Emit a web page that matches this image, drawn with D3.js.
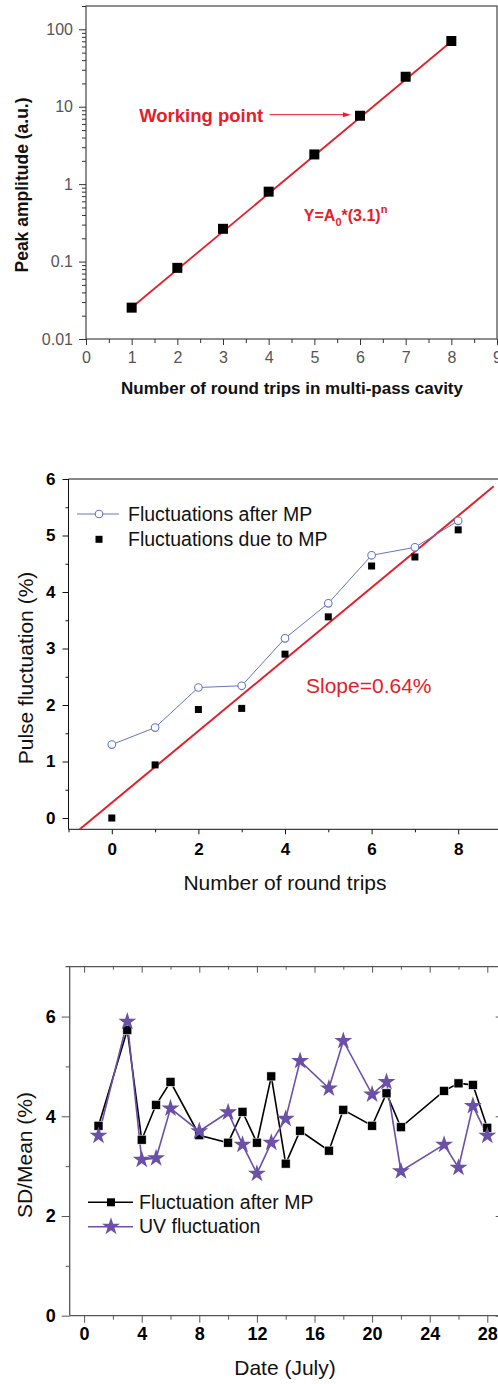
<!DOCTYPE html>
<html><head><meta charset="utf-8">
<script src="https://cdn.jsdelivr.net/npm/d3@7"></script>
<style>
html,body{margin:0;padding:0;background:#fff;}
svg{display:block;font-family:"Liberation Sans",Arial,sans-serif;}
</style></head>
<body>
<svg id="c" width="498" height="1384"></svg>
<script>
// ---------- Panel 1 data ----------
const p1Trips = [1, 2, 3, 4, 5, 6, 7, 8];
const p1Amp = [0.0254, 0.083, 0.265, 0.80, 2.42, 7.65, 24.4, 70.6];
const p1FitX = [1, 8];
const p1FitY = [0.0255, 69.5];
const p1YTicks = [0.01, 0.1, 1, 10, 100];
const p1XTicks = [0, 1, 2, 3, 4, 5, 6, 7, 8, 9];

// ---------- Panel 2 data ----------
const p2Trips = [0, 1, 2, 3, 4, 5, 6, 7, 8];
const p2After = [1.30, 1.60, 2.31, 2.34, 3.18, 3.80, 4.65, 4.79, 5.26];
const p2Due = [0.00, 0.94, 1.92, 1.94, 2.90, 3.56, 4.46, 4.62, 5.10];
const p2FitX = [-0.74, 8.82];
const p2FitY = [-0.20, 5.87];
const p2YTicks = [0, 1, 2, 3, 4, 5, 6];
const p2XTicks = [0, 2, 4, 6, 8];

// ---------- Panel 3 data ----------
const p3DaysMP = [1, 3, 4, 5, 6, 8, 10, 11, 12, 13, 14, 15, 17, 18, 20, 21, 22, 25, 26, 27, 28];
const p3MP = [3.81, 5.73, 3.53, 4.23, 4.69, 3.62, 3.47, 4.09, 3.47, 4.80, 3.05, 3.71, 3.31, 4.13, 3.81, 4.46, 3.78, 4.51, 4.66, 4.63, 3.77];
const p3DaysUV = [1, 3, 4, 5, 6, 8, 10, 11, 12, 13, 14, 15, 17, 18, 20, 21, 22, 25, 26, 27, 28];
const p3UV = [3.61, 5.90, 3.13, 3.16, 4.16, 3.70, 4.08, 3.43, 2.85, 3.47, 3.95, 5.11, 4.56, 5.51, 4.44, 4.69, 2.90, 3.43, 2.97, 4.21, 3.61];
const p3YTicks = [0, 2, 4, 6];
const p3XTicks = [0, 4, 8, 12, 16, 20, 24, 28];

const RED = "#e3202a";
const BLUE = "#6576c0";
const PURPLE = "#6a50a6";

const svg = d3.select("#c");

function styleAxis(g, color, fs, weight, fill) {
  g.select(".domain").remove();
  g.selectAll(".tick line").attr("stroke", color).attr("stroke-width", 1);
  g.selectAll(".tick text").attr("font-size", fs).attr("font-weight", weight)
    .attr("fill", fill).attr("font-family", '"Liberation Sans",Arial,sans-serif');
}

// ================= PANEL 1 =================
{
  const x = d3.scaleLinear().domain([0, 9]).range([86, 497]);
  const y = d3.scaleLog().domain([0.01, 200]).range([339, 6]);
  const g = svg.append("g");
  const axC = "#333";
  g.append("rect").attr("x", 86).attr("y", 6).attr("width", 411).attr("height", 333)
    .attr("fill", "none").attr("stroke", "#444").attr("stroke-width", 1.2);
  const minor = y.ticks().filter(v => !p1YTicks.includes(+v.toPrecision(3)));
  g.append("g").attr("transform", "translate(86,0)")
    .call(d3.axisLeft(y).tickValues(minor).tickSize(4).tickFormat(""))
    .call(a => styleAxis(a, axC, 16, "normal", "#555"));
  g.append("g").attr("transform", "translate(86,0)")
    .call(d3.axisLeft(y).tickValues(p1YTicks).tickSize(7).tickPadding(6)
      .tickFormat(d => d >= 1 ? d3.format("d")(d) : String(d)))
    .call(a => styleAxis(a, axC, 16, "normal", "#555"));
  g.append("g").attr("transform", "translate(0,339)")
    .call(d3.axisBottom(x).tickValues(d3.range(0.5, 9, 1)).tickSize(4).tickFormat(""))
    .call(a => styleAxis(a, axC, 16, "normal", "#555"));
  g.append("g").attr("transform", "translate(0,339)")
    .call(d3.axisBottom(x).tickValues(p1XTicks).tickSize(6).tickPadding(7).tickFormat(d3.format("d")))
    .call(a => styleAxis(a, axC, 16, "normal", "#555"));
  g.append("path").datum(p1FitX.map((v, i) => [v, p1FitY[i]]))
    .attr("d", d3.line().x(d => x(d[0])).y(d => y(d[1])))
    .attr("stroke", RED).attr("stroke-width", 1.8).attr("fill", "none");
  g.selectAll("rect.pt").data(p1Trips).join("rect").attr("class", "pt")
    .attr("x", (d, i) => x(d) - 5).attr("y", (d, i) => y(p1Amp[i]) - 5)
    .attr("width", 10).attr("height", 10).attr("fill", "#000");
  const ay = y(7.9);
  g.append("text").attr("x", x(3.88)).attr("y", ay + 7).attr("text-anchor", "end")
    .attr("font-size", 18.5).attr("font-weight", "bold").attr("fill", RED).text("Working point");
  g.append("line").attr("x1", x(4.02)).attr("x2", x(5.8) - 6).attr("y1", ay).attr("y2", ay)
    .attr("stroke", RED).attr("stroke-width", 1);
  g.append("path").attr("d", `M${x(5.8)},${ay} l-8,-2.5 l0,5 z`).attr("fill", RED);
  const eq = g.append("text").attr("x", x(4.77)).attr("y", y(0.33)).attr("font-size", 16)
    .attr("font-weight", "bold").attr("fill", RED);
  eq.append("tspan").text("Y=A");
  eq.append("tspan").attr("font-size", 11).attr("dy", 5).text("0");
  eq.append("tspan").attr("dy", -5).text("*(3.1)");
  eq.append("tspan").attr("font-size", 11).attr("dy", -8).text("n");
  g.append("text").attr("transform", "translate(28,185) rotate(-90)").attr("text-anchor", "middle")
    .attr("font-size", 17.5).attr("font-weight", "bold").attr("fill", "#111").text("Peak amplitude (a.u.)");
  g.append("text").attr("x", 292).attr("y", 394).attr("text-anchor", "middle")
    .attr("font-size", 17).attr("font-weight", "bold").attr("fill", "#111")
    .text("Number of round trips in multi-pass cavity");
}

// ================= PANEL 2 =================
{
  const x = d3.scaleLinear().domain([-1, 9]).range([68.5, 501.5]);
  const y = d3.scaleLinear().domain([-0.2, 6]).range([829.3, 479]);
  const g = svg.append("g");
  const axC = "#111";
  g.append("line").attr("x1", 68.5).attr("x2", 501.5).attr("y1", 479).attr("y2", 479).attr("stroke", axC);
  g.append("line").attr("x1", 68.5).attr("x2", 68.5).attr("y1", 479).attr("y2", 829.3).attr("stroke", axC);
  g.append("line").attr("x1", 68.5).attr("x2", 501.5).attr("y1", 829.3).attr("y2", 829.3).attr("stroke", axC);
  g.append("g").attr("transform", "translate(68.5,0)")
    .call(d3.axisLeft(y).tickValues(d3.range(0.5, 6, 1)).tickSize(3).tickFormat(""))
    .call(a => styleAxis(a, axC, 17, "bold", "#000"));
  g.append("g").attr("transform", "translate(68.5,0)")
    .call(d3.axisLeft(y).tickValues(p2YTicks).tickSize(6).tickPadding(7).tickFormat(d3.format("d")))
    .call(a => styleAxis(a, axC, 17, "bold", "#000"));
  g.append("g").attr("transform", "translate(0,829.3)")
    .call(d3.axisBottom(x).tickValues([-1, 1, 3, 5, 7, 9]).tickSize(3).tickFormat(""))
    .call(a => styleAxis(a, axC, 17, "bold", "#000"));
  g.append("g").attr("transform", "translate(0,829.3)")
    .call(d3.axisBottom(x).tickValues(p2XTicks).tickSize(5).tickPadding(9).tickFormat(d3.format("d")))
    .call(a => styleAxis(a, axC, 17, "bold", "#000"));
  g.append("path").datum(p2FitX.map((v, i) => [v, p2FitY[i]]))
    .attr("d", d3.line().x(d => x(d[0])).y(d => y(d[1])))
    .attr("stroke", RED).attr("stroke-width", 2).attr("fill", "none");
  g.append("path").datum(p2Trips.map((v, i) => [v, p2After[i]]))
    .attr("d", d3.line().x(d => x(d[0])).y(d => y(d[1])))
    .attr("stroke", BLUE).attr("stroke-width", 1).attr("fill", "none");
  g.selectAll("circle.pt").data(p2Trips).join("circle").attr("class", "pt")
    .attr("cx", d => x(d)).attr("cy", (d, i) => y(p2After[i])).attr("r", 3.8)
    .attr("fill", "#fff").attr("stroke", BLUE).attr("stroke-width", 1.1);
  g.selectAll("rect.pt").data(p2Trips).join("rect").attr("class", "pt")
    .attr("x", d => x(d) - 3.5).attr("y", (d, i) => y(p2Due[i]) - 3.5)
    .attr("width", 7).attr("height", 7).attr("fill", "#000");
  g.append("line").attr("x1", 77).attr("x2", 119).attr("y1", 514).attr("y2", 514).attr("stroke", BLUE);
  g.append("circle").attr("cx", 99).attr("cy", 514).attr("r", 3.8).attr("fill", "#fff").attr("stroke", BLUE).attr("stroke-width", 1.1);
  g.append("text").attr("x", 128).attr("y", 521).attr("font-size", 19.5).attr("fill", "#111").text("Fluctuations after MP");
  g.append("rect").attr("x", 95.5).attr("y", 535.8).attr("width", 7).attr("height", 7).attr("fill", "#000");
  g.append("text").attr("x", 128).attr("y", 546).attr("font-size", 19.5).attr("fill", "#111").text("Fluctuations due to MP");
  g.append("text").attr("x", 306).attr("y", 692.5).attr("font-size", 21).attr("fill", RED).text("Slope=0.64%");
  g.append("text").attr("transform", "translate(33,668) rotate(-90)").attr("text-anchor", "middle")
    .attr("font-size", 21).attr("fill", "#111").text("Pulse fluctuation (%)");
  g.append("text").attr("x", 285).attr("y", 890).attr("text-anchor", "middle")
    .attr("font-size", 21).attr("fill", "#111").text("Number of round trips");
}

// ================= PANEL 3 =================
{
  const x = d3.scaleLinear().domain([-1, 29]).range([69.7, 501.7]);
  const y = d3.scaleLinear().domain([0, 7]).range([1315.7, 966.7]);
  const g = svg.append("g");
  const axC = "#555";
  g.append("line").attr("x1", 65.5).attr("x2", 501.7).attr("y1", 966.7).attr("y2", 966.7).attr("stroke", axC).attr("stroke-width", 1.3);
  g.append("line").attr("x1", 69.7).attr("x2", 69.7).attr("y1", 966.7).attr("y2", 1315.7).attr("stroke", axC).attr("stroke-width", 1.3);
  g.append("line").attr("x1", 69.7).attr("x2", 501.7).attr("y1", 1315.7).attr("y2", 1315.7).attr("stroke", axC).attr("stroke-width", 1.3);
  g.append("line").attr("x1", 501.7).attr("x2", 501.7).attr("y1", 966.7).attr("y2", 1315.7).attr("stroke", axC).attr("stroke-width", 1.3);
  g.append("g").attr("transform", "translate(69.7,0)")
    .call(d3.axisLeft(y).tickValues([1, 3, 5]).tickSize(4).tickFormat(""))
    .call(a => styleAxis(a, axC, 18, "bold", "#000"));
  g.append("g").attr("transform", "translate(69.7,0)")
    .call(d3.axisLeft(y).tickValues(p3YTicks).tickSize(8).tickPadding(6).tickFormat(d3.format("d")))
    .call(a => styleAxis(a, axC, 18, "bold", "#000"));
  g.append("g").attr("transform", "translate(501.7,0)")
    .call(d3.axisLeft(y).tickValues(p3YTicks).tickSize(6).tickFormat(""))
    .call(a => styleAxis(a, axC, 18, "bold", "#000"));
  g.append("g").attr("transform", "translate(0,1315.7)")
    .call(d3.axisBottom(x).tickValues(d3.range(2, 29, 4)).tickSize(4).tickFormat(""))
    .call(a => styleAxis(a, axC, 18, "bold", "#000"));
  g.append("g").attr("transform", "translate(0,1315.7)")
    .call(d3.axisBottom(x).tickValues(p3XTicks).tickSize(7).tickPadding(5).tickFormat(d3.format("d")))
    .call(a => styleAxis(a, axC, 18, "bold", "#000"));
  g.append("g").attr("transform", "translate(0,966.7)")
    .call(d3.axisTop(x).tickValues(d3.range(2, 29, 4)).tickSize(-3).tickFormat(""))
    .call(a => styleAxis(a, axC, 18, "bold", "#000"));
  g.append("g").attr("transform", "translate(0,966.7)")
    .call(d3.axisTop(x).tickValues(p3XTicks).tickSize(-6).tickFormat(""))
    .call(a => styleAxis(a, axC, 18, "bold", "#000"));
  const line = d3.line().x(d => x(d[0])).y(d => y(d[1]));
  g.append("path").datum(p3DaysMP.map((v, i) => [v, p3MP[i]])).attr("d", line)
    .attr("stroke", "#000").attr("stroke-width", 1.6).attr("fill", "none");
  g.append("path").datum(p3DaysUV.map((v, i) => [v, p3UV[i]])).attr("d", line)
    .attr("stroke", PURPLE).attr("stroke-width", 1.6).attr("fill", "none");
  g.selectAll("rect.pt").data(p3DaysMP).join("rect").attr("class", "pt")
    .attr("x", d => x(d) - 4.5).attr("y", (d, i) => y(p3MP[i]) - 4.5)
    .attr("width", 9).attr("height", 9).attr("fill", "#000").attr("stroke", "#fff").attr("stroke-width", 0.6);
  const star = d3.symbol().type(d3.symbolStar).size(100);
  g.selectAll("path.st").data(p3DaysUV).join("path").attr("class", "st")
    .attr("transform", (d, i) => `translate(${x(d)},${y(p3UV[i])})`)
    .attr("d", star).attr("fill", PURPLE);
  g.append("line").attr("x1", 88).attr("x2", 133).attr("y1", 1202.3).attr("y2", 1202.3).attr("stroke", "#000").attr("stroke-width", 1.6);
  g.append("rect").attr("x", 107).attr("y", 1198.3).attr("width", 8).attr("height", 8).attr("fill", "#000");
  g.append("text").attr("x", 139).attr("y", 1209).attr("font-size", 19.5).attr("fill", "#111").text("Fluctuation after MP");
  g.append("line").attr("x1", 88).attr("x2", 133).attr("y1", 1226.7).attr("y2", 1226.7).attr("stroke", PURPLE).attr("stroke-width", 1.6);
  g.append("path").attr("transform", "translate(111,1226.7)").attr("d", star).attr("fill", PURPLE);
  g.append("text").attr("x", 139).attr("y", 1233.3).attr("font-size", 19.5).attr("fill", "#111").text("UV fluctuation");
  g.append("text").attr("transform", "translate(32,1155) rotate(-90)").attr("text-anchor", "middle")
    .attr("font-size", 21).attr("fill", "#111").text("SD/Mean (%)");
  g.append("text").attr("x", 285).attr("y", 1375).attr("text-anchor", "middle")
    .attr("font-size", 21).attr("fill", "#111").text("Date (July)");
}
</script>
</body></html>
